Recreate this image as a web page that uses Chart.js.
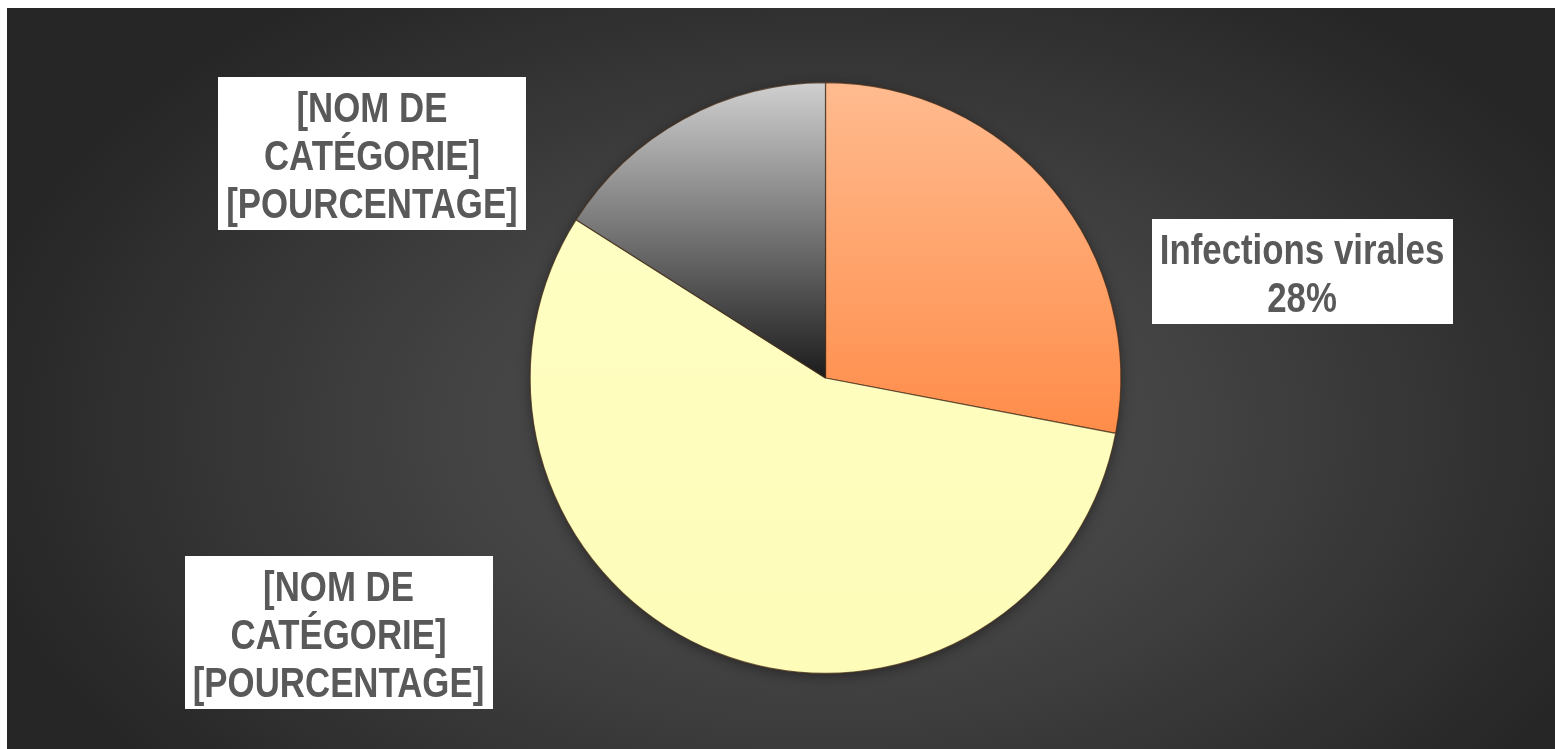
<!DOCTYPE html>
<html>
<head>
<meta charset="utf-8">
<script src="https://cdn.jsdelivr.net/npm/chart.js@4.4.0/dist/chart.umd.min.js"></script>
<style>
    html, body { margin: 0; padding: 0; background: #ffffff; overflow: hidden; }
    #bg {
        position: fixed; left: 0; top: 0; width: 1555px; height: 749px;
        box-sizing: border-box;
        border-left: 7px solid #ffffff;
        border-top: 8px solid #ffffff;
        background: radial-gradient(ellipse 860px 533px at 813px 422px, #515151 0%, #424242 45%, #262626 100%);
    }
    #wrap { position: fixed; left: 0; top: 0; width: 1555px; height: 749px; }
    canvas { display: block; }
</style>
</head>
<body>
<div id="bg"></div>
<div id="wrap"><canvas id="pieChart"></canvas></div>
<script>
// Chart data
const categories = ['Infections virales', '[NOM DE CATÉGORIE]', '[NOM DE CATÉGORIE]'];
const shares = [28, 56, 16];
const labelLines = [
    ['Infections virales', '28%'],
    ['[NOM DE', 'CATÉGORIE]', '[POURCENTAGE]'],
    ['[NOM DE', 'CATÉGORIE]', '[POURCENTAGE]']
];

// label box centres, as fractions of the canvas
const labelAnchors = [
    { x: 0.8373, y: 0.3625 },
    { x: 0.2177, y: 0.8438 },
    { x: 0.2392, y: 0.2056 }
];

// gradient stops per slice: [top colour, bottom colour, bottom as fraction of chart height]
const sliceShades = [
    ['#ffbb8f', '#ff8a46', 0.62],
    ['#ffffc6', '#fdfcb8', 1.0],
    ['#d0d0d0', '#1c1c1c', 0.5]
];

function sliceFill(context) {
    const chart = context.chart;
    const area = chart.chartArea;
    if (!area) return '#999';
    const shade = sliceShades[context.dataIndex];
    const g = chart.ctx.createLinearGradient(0, area.top, 0, area.top + (area.bottom - area.top) * shade[2]);
    g.addColorStop(0, shade[0]);
    g.addColorStop(1, shade[1]);
    return g;
}

// soft drop shadow under the pie
const pieShadow = {
    id: 'pieShadow',
    beforeDatasetsDraw(chart) {
        const arc = chart.getDatasetMeta(0).data[0];
        if (!arc) return;
        const ctx = chart.ctx;
        ctx.save();
        ctx.shadowColor = 'rgba(0,0,0,0.45)';
        ctx.shadowBlur = 14;
        ctx.shadowOffsetY = 3;
        ctx.fillStyle = '#3a3a3a';
        ctx.beginPath();
        ctx.arc(arc.x, arc.y, arc.outerRadius - 1, 0, Math.PI * 2);
        ctx.fill();
        ctx.restore();
    }
};

// white boxed labels, bold Arial-like text squeezed to a narrow face
const boxLabels = {
    id: 'boxLabels',
    afterDatasetsDraw(chart) {
        const ctx = chart.ctx;
        const squeeze = 0.81;
        const lineH = 48;
        ctx.save();
        ctx.font = 'bold 43px "Liberation Sans", Arial, sans-serif';
        ctx.textAlign = 'center';
        ctx.textBaseline = 'alphabetic';
        labelLines.forEach((lines, i) => {
            const cx = labelAnchors[i].x * chart.width;
            const cy = labelAnchors[i].y * chart.height;
            let maxW = 0;
            lines.forEach(t => { maxW = Math.max(maxW, ctx.measureText(t).width * squeeze); });
            const bw = maxW + 16;
            const bh = lines.length * lineH + 9;
            const top = Math.round(cy - bh / 2);
            ctx.fillStyle = '#ffffff';
            ctx.fillRect(Math.round(cx - bw / 2), top, Math.round(bw), Math.round(bh));
            ctx.fillStyle = '#595959';
            lines.forEach((t, j) => {
                ctx.save();
                ctx.translate(cx, top + 45 + lineH * j);
                ctx.scale(squeeze, 1);
                ctx.fillText(t, 0, 0);
                ctx.restore();
            });
        });
        ctx.restore();
    }
};

new Chart(document.getElementById('pieChart'), {
    type: 'pie',
    data: {
        labels: categories,
        datasets: [{
            data: shares,
            backgroundColor: sliceFill,
            borderColor: 'rgba(70, 45, 25, 0.75)',
            borderWidth: 1.2
        }]
    },
    options: {
        responsive: true,
        maintainAspectRatio: false,
        animation: false,
        rotation: 0,
        layout: {
            padding: { left: 529, right: 433, top: 82, bottom: 75 }
        },
        plugins: {
            legend: { display: false },
            tooltip: { enabled: false }
        }
    },
    plugins: [pieShadow, boxLabels]
});
</script>
</body>
</html>
